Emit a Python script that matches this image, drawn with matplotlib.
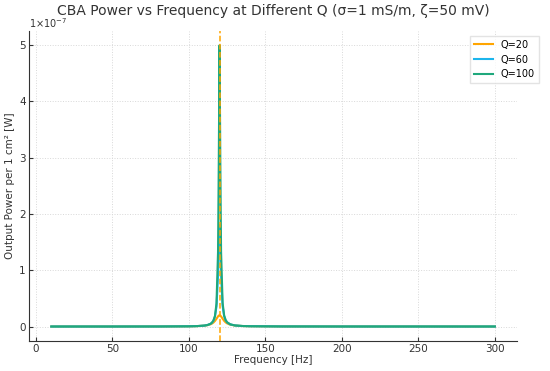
import matplotlib
matplotlib.use("Agg")
import matplotlib.pyplot as plt

# Частоты (Гц) и мощность (в единицах 1e-7 Вт)
freq = [10, 50, 80, 100, 105, 110, 112, 114, 115, 116, 117, 118, 119, 119.5, 120,
        120.5, 121, 122, 123, 124, 125, 127, 130, 135, 140, 160, 200, 300]

p_q20 = [0.0, 0.0001, 0.0007, 0.0036, 0.0067, 0.0152, 0.0232, 0.0384, 0.0513, 0.0704,
         0.0987, 0.1377, 0.1799, 0.1946, 0.2, 0.1946, 0.180, 0.139, 0.101, 0.0735,
         0.0545, 0.0325, 0.0177, 0.0086, 0.0051, 0.0015, 0.0004, 0.0001]
p_q60 = [0.0, 0.0001, 0.0007, 0.0037, 0.0069, 0.0163, 0.0258, 0.0462, 0.066, 0.1025,
         0.176, 0.355, 0.896, 1.439, 1.8, 1.442, 0.904, 0.365, 0.184, 0.109,
         0.072, 0.038, 0.0193, 0.0089, 0.0052, 0.0015, 0.0004, 0.0001]
p_q100 = [0.0, 0.0001, 0.0007, 0.0037, 0.0070, 0.0164, 0.0261, 0.047, 0.068, 0.1064,
          0.188, 0.41, 1.32, 2.95, 5.0, 2.96, 1.33, 0.42, 0.197, 0.1136,
          0.074, 0.0386, 0.019, 0.0090, 0.0052, 0.0015, 0.0004, 0.0001]

series = [("Q=20", p_q20, "#ffa500"),
          ("Q=60", p_q60, "#1cb5ec"),
          ("Q=100", p_q100, "#1fa87c")]
f_res = 120

fig = plt.figure(figsize=(5.5, 3.71), dpi=100)
ax = fig.add_axes([0.053, 0.082, 0.887, 0.834])

for label, vals, color in series:
    ax.plot(freq, vals, color=color, lw=1.5, label=label)
ax.axvline(f_res, color="#ffa500", ls="--", lw=1.1)

ax.set_title("CBA Power vs Frequency at Different Q (σ=1 mS/m, ζ=50 mV)",
             fontsize=10, color="#333333", pad=11.5)
ax.set_xlabel("Frequency [Hz]", fontsize=7.5, color="#333333", labelpad=1)
ax.set_ylabel("Output Power per 1 cm² [W]", fontsize=7.5, color="#333333", labelpad=3)
ax.text(0.0, 1.004, r"1$\times$10$^{-7}$", transform=ax.transAxes, fontsize=7,
        color="#333333", va="bottom")

ax.set_xticks([0, 50, 100, 150, 200, 250, 300])
ax.set_yticks([0, 1, 2, 3, 4, 5])
ax.tick_params(labelsize=7.5, length=3, width=0.8, colors="#333333", direction="in", pad=2.5)
ax.grid(True, ls=":", color="#d8d8d8", lw=0.7)
for s in ["top", "right"]:
    ax.spines[s].set_visible(False)
for s in ["left", "bottom"]:
    ax.spines[s].set_color("#333333")

leg = ax.legend(loc="upper right", bbox_to_anchor=(1.045, 0.985), borderaxespad=0,
                fontsize=7, frameon=True, fancybox=False)
leg.get_frame().set_edgecolor("#dddddd")

fig.savefig("out.png", dpi=100)
